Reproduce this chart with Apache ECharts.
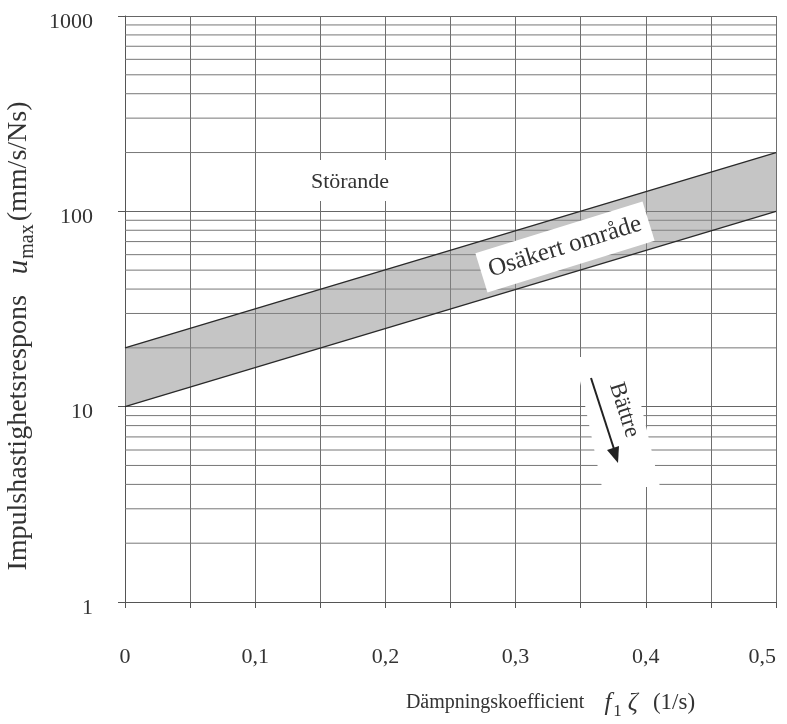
<!DOCTYPE html>
<html>
<head>
<meta charset="utf-8">
<script src="https://cdn.jsdelivr.net/npm/echarts@6/dist/echarts.min.js"></script>
<style>html,body{margin:0;padding:0;background:#fff;}#chart{width:787px;height:724px;}</style>
</head>
<body>
<div id="chart"></div>
<script>
// Data
const xValues = [0, 0.5];
const lowerBound = [10, 100];
const upperBound = [20, 200];
const minorGridValues = [2,3,4,5,6,7,8,9,20,30,40,50,60,70,80,90,200,300,400,500,600,700,800,900];
const xTicks = [0, 0.1, 0.2, 0.3, 0.4, 0.5];
const yTicks = [1, 10, 100, 1000];

const serif = 'Liberation Serif';
const chart = echarts.init(document.getElementById('chart'));

const option = {
  backgroundColor: '#fff',
  animation: false,
  grid: { left: 125, right: 11, top: 16, bottom: 122, outerBoundsMode: 'none', containLabel: false },
  xAxis: {
    type: 'value', min: 0, max: 0.5, interval: 0.05,
    axisLine: { show: true, lineStyle: { color: '#555', width: 1 } },
    axisTick: { show: true, length: 6, lineStyle: { color: '#555' } },
    splitLine: { show: true, lineStyle: { color: '#6e6e6e', width: 1 } },
    axisLabel: {
      margin: 44, fontSize: 22, fontFamily: serif, color: '#333', hideOverlap: false,
      alignMaxLabel: 'right',
      formatter: function (v) {
        const t = xTicks.find(function (k) { return Math.abs(k - v) < 1e-6; });
        return t === undefined ? '' : String(t).replace('.', ',');
      }
    },
    name: '{n|Dämpningskoefficient}{n|    }{i|f}{sub|1}{z|ζ}{n|   }{u|(1/s)}',
    nameLocation: 'middle', nameGap: 84,
    nameTextStyle: {
      padding: [0, 0, 0, 200],
      rich: {
        n: { fontSize: 20, fontFamily: serif, color: '#333', lineHeight: 34 },
        u: { fontSize: 23, fontFamily: serif, color: '#333', lineHeight: 34 },
        i: { fontSize: 25, fontFamily: serif, fontStyle: 'italic', color: '#333', lineHeight: 34 },
        z: { fontSize: 25, fontFamily: serif, fontStyle: 'italic', color: '#333', lineHeight: 34 },
        sub: { fontSize: 17, fontFamily: serif, color: '#333', verticalAlign: 'bottom', lineHeight: 34, padding: [0, 6, 0, 2] }
      }
    }
  },
  yAxis: {
    type: 'log', logBase: 10, min: 1, max: 1000,
    axisLine: { show: true, lineStyle: { color: '#555', width: 1 } },
    axisTick: { show: true, length: 7, lineStyle: { color: '#555' } },
    splitLine: { show: true, lineStyle: { color: '#666', width: 1 } },
    axisLabel: {
      margin: 32, fontSize: 22, fontFamily: serif, color: '#333', verticalAlign: 'top', lineHeight: 12,
      formatter: function (v) {
        const t = yTicks.find(function (k) { return Math.abs(k - v) / k < 1e-6; });
        return t === undefined ? '' : String(t);
      }
    },
    name: '{n|Impulshastighetsrespons}{n|   }{i|u}{sub|max}{n|(mm/s/Ns)}',
    nameLocation: 'middle', nameGap: 78,
    nameTextStyle: {
      padding: [0, 54, 0, 0],
      rich: {
        n: { fontSize: 28, fontFamily: serif, color: '#333', lineHeight: 38 },
        i: { fontSize: 29, fontFamily: serif, fontStyle: 'italic', color: '#333', lineHeight: 38 },
        sub: { fontSize: 20, fontFamily: serif, color: '#333', verticalAlign: 'bottom', lineHeight: 38, padding: [0, 3, 0, 1] }
      }
    }
  },
  series: [
    {
      type: 'custom', name: 'minorGrid', silent: true, z: 1,
      data: minorGridValues.map(function (v) { return [0, v]; }),
      encode: { x: 0, y: 1 },
      renderItem: function (params, api) {
        const v = api.value(1);
        const p0 = api.coord([xValues[0], v]);
        const p1 = api.coord([xValues[xValues.length - 1], v]);
        return { type: 'line', shape: { x1: p0[0], y1: p0[1], x2: p1[0], y2: p1[1] },
          style: { stroke: '#777', lineWidth: 1 } };
      }
    },
    {
      type: 'custom', name: 'band', silent: true, z: 2,
      data: [[xValues[0], lowerBound[0]]],
      encode: { x: 0, y: 1 },
      renderItem: function (params, api) {
        const pts = [];
        for (let i = 0; i < xValues.length; i++) pts.push(api.coord([xValues[i], upperBound[i]]));
        for (let i = xValues.length - 1; i >= 0; i--) pts.push(api.coord([xValues[i], lowerBound[i]]));
        return { type: 'polygon', shape: { points: pts }, style: { fill: 'rgba(140,140,140,0.5)' } };
      }
    },
    {
      type: 'line', name: 'lower', z: 3, symbol: 'none', silent: true,
      data: xValues.map(function (x, i) { return [x, lowerBound[i]]; }),
      lineStyle: { color: '#2a2a2a', width: 1.3 }
    },
    {
      type: 'line', name: 'upper', z: 3, symbol: 'none', silent: true,
      data: xValues.map(function (x, i) { return [x, upperBound[i]]; }),
      lineStyle: { color: '#2a2a2a', width: 1.3 }
    }
  ],
  graphic: [
    { type: 'rect', z: 100, shape: { x: 300, y: 160, width: 100, height: 41 }, style: { fill: '#fff' } },
    { type: 'text', z: 101, x: 350, y: 182, style: { text: 'Störande', font: '22px "Liberation Serif"', fill: '#333', align: 'center', verticalAlign: 'middle' } },
    { type: 'text', z: 101, x: 565, y: 247, rotation: 0.3,
      style: { text: 'Osäkert område', font: '25px "Liberation Serif"', fill: '#333', align: 'center', verticalAlign: 'middle',
        backgroundColor: '#fff', padding: [8, 8, 8, 8] } },
    { type: 'polygon', z: 100, shape: { points: [[575, 357], [630, 357], [660, 487], [602, 487]] }, style: { fill: '#fff' } },
    { type: 'text', z: 101, x: 624, y: 410, rotation: -1.26,
      style: { text: 'Bättre', font: '23px "Liberation Serif"', fill: '#333', align: 'center', verticalAlign: 'middle' } },
    { type: 'line', z: 101, shape: { x1: 591, y1: 378, x2: 614, y2: 449 }, style: { stroke: '#222', lineWidth: 2 } },
    { type: 'polygon', z: 101, shape: { points: [[618, 463], [619, 446], [607, 450]] }, style: { fill: '#222' } }
  ]
};
chart.setOption(option);
</script>
</body>
</html>
